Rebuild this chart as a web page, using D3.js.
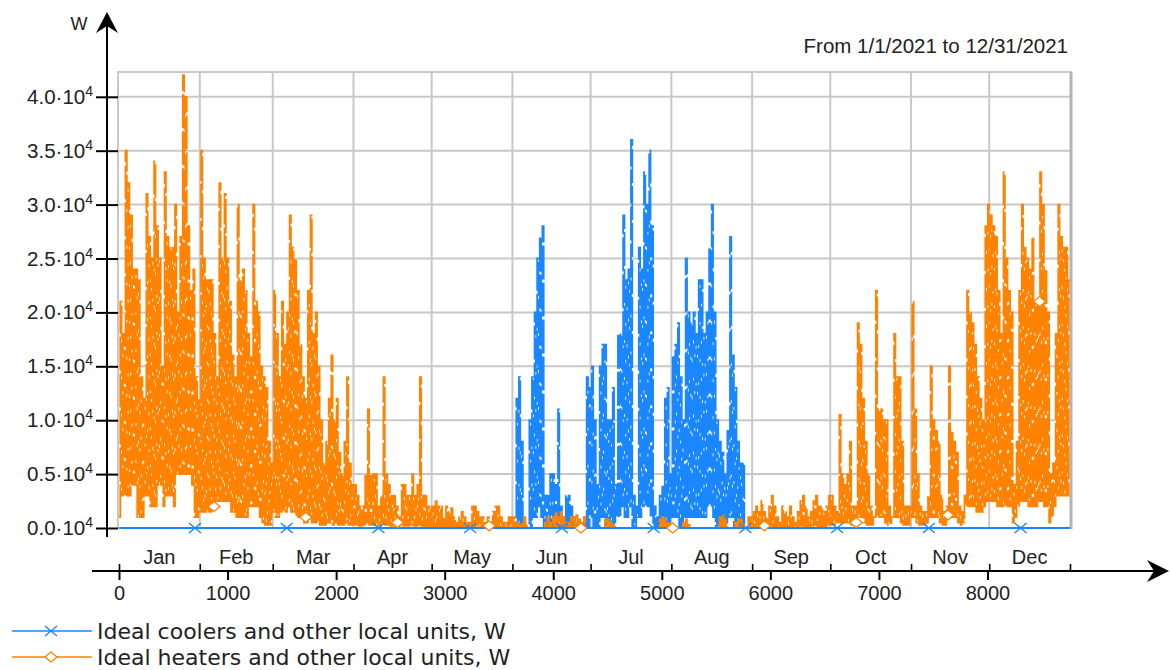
<!DOCTYPE html>
<html>
<head>
<meta charset="utf-8">
<script src="https://cdn.jsdelivr.net/npm/d3@7"></script>
<style>
body { margin: 0; background: #fff; }
text { font-family: "Liberation Sans", Arial, sans-serif; fill: #222; }
</style>
</head>
<body>
<svg id="chart" width="1170" height="670"></svg>
<script>
// month labels and the hour at which each month starts (last = end of year)
var monthNames = ["Jan","Feb","Mar","Apr","May","Jun","Jul","Aug","Sep","Oct","Nov","Dec"];
var monthStartHours = [0,744,1416,2160,2880,3624,4344,5088,5832,6552,7296,8016,8760];
var hourTicks = [0,1000,2000,3000,4000,5000,6000,7000,8000];
var powerTicks = [0,5000,10000,15000,20000,25000,30000,35000,40000];

// heaters, daily peak in kW (one value per day, Jan 1 .. Dec 31)
var heatMaxKw = [
  21,18,35,32,29,24,24,23,14,12,31,27,25,34,28,25,15,33,27,26,26,30,20,27,42,40,28,22,24,14,12, // Jan
  35,25,23,23,23,18,14,32,25,31,25,21,16,14,30,23,24,22,18,16,30,21,20,15,14,13,8,6, // Feb
  22,18,14,21,17,20,29,26,25,22,17,14,12,22,29,18,20,15,10,6,8,12,16,10,12,7,5,8,14,6,4, // Mar
  4,3,2,2,5,11,5,5,5,2,3,14,5,4,3,3,2,1,4,4,3,3,5,3,4,14,3,3,2,2, // Apr
  2,2.5,2,2,1,2,1.5,2,1,0.5,1,1.5,1,0.5,0.5,2,2,1.5,1,1,0.5,1,0.5,1.5,2,2,1,0.5,0.5,1,1, // May
  1,0.5,0.3,0.5,1,0.3,0,0,0,0,0,0,0.5,1,0.5,1,1.5,1,1.5,1,0.5,0.5,1,1,1.2,0.8,0.5,1,0,0, // Jun
  0,0,0,0,0,0.8,0.8,0.5,0.3,0,0,0,0,0,0,0,0,0,0,0,0,0,0,0,0,0,0.8,1,0.8,0.5,0.3, // Jul
  0,0,0,0,0.5,0.8,0.3,0,0,0,0,0,0,0,0,0,0,0,1,1.2,0.8,0,0,0,0.5,0.8,0.8,0.3,0,1,1, // Aug
  1.5,2,1.5,2.5,1.5,1,2,3,2,1,0.5,2,1.5,1,2,1,0.5,1.5,2.5,3,2,1,1.5,2.5,3,2,2,1.5,2,3, // Sep
  3,2,1.5,10.5,5,4,5,8,2,2,19,17,12,8,5,2,1,22,11,11,10,10,2,1,18,14,14,8,2,2,2, // Oct
  21,11,5,2,1.5,1.5,3,15,10,9,8,3,1.5,2,15,9,8,7,2,1.5,3,22,20,19,17,14,12,10,28,30, // Nov
  29,28,27,22,18,33,25,22,20,4,8,22,30,26,25,24,27,21,21,33,30,24,20,5,6,18,30,27,26,26,23 // Dec
];

// heaters, daily low in kW
var heatMinKw = [
  1,3,3,3,3,4,4,1,1,1,3,3,2,2,2,4,4,2,3,3,3,2,5,5,5,5,5,5,4,1,1,
  1.5,1.5,1.5,1.5,1.5,2,2.5,2.5,2.5,2.5,2.5,2.5,1.5,1.5,1,1,1,1,1,2,2,2,2,1,0.5,0.3,0.3,0.3,
  1.5,1,1,1.5,1.5,1.5,2,1.5,1.5,1,1,1,0.5,0.5,1,0.5,0.5,0.5,0.3,0.3,0.3,0.5,0.5,0.3,0.5,0.3,0.3,0.3,0.5,0.3,0.3,
  0.3,0.3,0.2,0.2,0.3,0.5,0.3,0.3,0.3,0.2,0.2,0.5,0.3,0.3,0.2,0.2,0.2,0.1,0.2,0.2,0.2,0.2,0.3,0.2,0.2,0.3,0.2,0.1,0.1,0.1,
  0.1,0.1,0.1,0.1,0,0.1,0,0.1,0,0,0,0,0,0,0,0.1,0.1,0,0,0,0,0,0,0,0.1,0.1,0,0,0,0,0,
  0,0,0,0,0,0,0,0,0,0,0,0,0,0,0,0,0,0,0,0,0,0,0,0,0,0,0,0,0,0,
  0,0,0,0,0,0,0,0,0,0,0,0,0,0,0,0,0,0,0,0,0,0,0,0,0,0,0,0,0,0,0,
  0,0,0,0,0,0,0,0,0,0,0,0,0,0,0,0,0,0,0,0,0,0,0,0,0,0,0,0,0,0,0,
  0,0.1,0,0.2,0,0,0.1,0.2,0.1,0,0,0.1,0,0,0.1,0,0,0,0.2,0.2,0.1,0,0,0.2,0.3,0.1,0.1,0,0.1,0.3,
  0.3,0.3,0.3,0.5,0.5,0.5,0.5,0.5,0.3,0.3,1,1,1,0.5,0.3,0.3,0.3,1,1,1,1,0.5,0.3,0.3,1,1,1,0.5,0.3,0.3,0.3,
  1,1,0.5,0.3,0.3,0.3,0.5,1,1,1,1,0.5,0.3,0.3,1,1,1,1,0.5,0.3,0.5,2,2,2,2,1.5,1.5,1.5,2,2.5,
  2.5,2.5,2.5,2,2,2,2,2,2,0.5,1,2,2.5,2.5,2.5,2,2,2,2,2.5,2.5,2,2,0.5,1,2,3,3,3,3,3
];

// coolers are only running in summer: daily values from day 150 (May 31) on
var coolFirstDay = 150;
var coolMaxKw = [
  0,0,12,14,8,0,0,10,14,20,
  25,27,28,3,3,5,5,4,11,2,
  1,3,3,2,1,0,0,0,1,14,
  13,15,10,4,15,17,17,10,10,13,
  4,18,18,29,23,24,36,3,2,26,
  24,33,30,35,28,2,1,3,4,12,
  13,5,16,17,19,14,10,25,20,19,
  20,18,23,23,18,20,26,30,20,10,
  8,7,5,9,27,16,13,8,6,6,0
];
var coolMinKw = [
  0,0,0,0,0,0,0,0,0,1,
  1,2,1,0,0,0,0,0,0,0,
  0,0,0,0,0,0,0,0,0,0,
  0,1,0,0,0,1,1,0,0,0,
  0,1,1,2,1,1,2,0,0,1,
  1,2,2,2,1,0,0,0,0,0,
  0,0,1,1,1,0,0,1,1,1,
  1,1,1,1,1,1,2,2,1,0,
  0,0,0,0,1,1,0,0,0,0,0
];

// marker positions (hour) and the value they sit on
var coolMarkHours = [700,1545,2390,3235,4080,4925,5770,6615,7460,8305];
var heatMarkHours = [875,1720,2565,3410,4255,5100,5945,6790,7635,8480];
var heatMarkKw = [2,1,0.5,0.2,0,0,0.2,0.5,1.2,21];

var blue = "#1a86ff";
var orange = "#ff8200";
var gridColor = "#c8c8c8";

var svg = d3.select("#chart");

var x = d3.scaleLinear().domain([0, 8760]).range([119, 1070]);
var y = d3.scaleLinear().domain([0, 42300]).range([528, 72]);

// turn daily low/peak pairs into a step line: low at midnight, peak at noon
function dailyPoints(maxArr, minArr, firstDay) {
  var pts = [];
  maxArr.forEach(function(mx, i) {
    var d = firstDay + i;
    pts.push([d * 24, minArr[i] * 1000]);
    pts.push([d * 24 + 12, mx * 1000]);
  });
  return pts;
}

var heatPts = dailyPoints(heatMaxKw, heatMinKw, 0);
heatPts.push([8760, heatMaxKw[heatMaxKw.length - 1] * 1000]);
var coolPts = [[0, 0]].concat(dailyPoints(coolMaxKw, coolMinKw, coolFirstDay));
coolPts.push([8760, 0]);

var line = d3.line()
  .x(function(d) { return x(d[0]); })
  .y(function(d) { return y(d[1]); })
  .curve(d3.curveStepAfter);

// plot frame + grid
svg.append("defs").append("clipPath").attr("id", "plotclip")
  .append("rect").attr("x", 118).attr("y", 72).attr("width", 953).attr("height", 458);

var grid = svg.append("g");
grid.selectAll("line.v")
  .data(monthStartHours.slice(1, 12))
  .enter().append("line")
  .attr("x1", function(d) { return x(d); })
  .attr("x2", function(d) { return x(d); })
  .attr("y1", 72).attr("y2", 528)
  .attr("stroke", gridColor).attr("stroke-width", 2);
grid.selectAll("line.h")
  .data(powerTicks.slice(1))
  .enter().append("line")
  .attr("x1", 118).attr("x2", 1071)
  .attr("y1", function(d) { return y(d); })
  .attr("y2", function(d) { return y(d); })
  .attr("stroke", gridColor).attr("stroke-width", 2);
grid.append("rect")
  .attr("x", 118).attr("y", 72).attr("width", 953).attr("height", 456)
  .attr("fill", "none").attr("stroke", gridColor).attr("stroke-width", 2);
grid.append("line")
  .attr("x1", 1071).attr("x2", 1071).attr("y1", 72).attr("y2", 529)
  .attr("stroke", "#b4b4b4").attr("stroke-width", 3);

// series
var plot = svg.append("g").attr("clip-path", "url(#plotclip)");
plot.append("path")
  .attr("d", line(coolPts))
  .attr("fill", "none")
  .attr("stroke", blue)
  .attr("stroke-width", 1.8)
  .attr("stroke-dasharray", "34 3");
plot.append("path")
  .attr("d", line(heatPts))
  .attr("fill", "none")
  .attr("stroke", orange)
  .attr("stroke-width", 1.8)
  .attr("stroke-dasharray", "34 3");
// blue zero line on top of the cooling path
plot.append("line")
  .attr("x1", x(0)).attr("x2", x(8760))
  .attr("y1", y(0)).attr("y2", y(0))
  .attr("stroke", blue).attr("stroke-width", 2);

function crossMark(sel, color) {
  sel.append("line").attr("x1", -6).attr("y1", -5).attr("x2", 6).attr("y2", 5)
    .attr("stroke", color).attr("stroke-width", 1.4);
  sel.append("line").attr("x1", -6).attr("y1", 5).attr("x2", 6).attr("y2", -5)
    .attr("stroke", color).attr("stroke-width", 1.4);
}
function diamondMark(sel, color) {
  sel.append("path").attr("d", "M0,-5L6,0L0,5L-6,0Z")
    .attr("fill", "#fff").attr("stroke", color).attr("stroke-width", 1.3);
}

svg.selectAll("g.cm")
  .data(coolMarkHours)
  .enter().append("g")
  .attr("transform", function(d) { return "translate(" + x(d) + "," + y(0) + ")"; })
  .call(crossMark, blue);
svg.selectAll("g.hm")
  .data(heatMarkHours)
  .enter().append("g")
  .attr("transform", function(d, i) { return "translate(" + x(d) + "," + y(heatMarkKw[i] * 1000) + ")"; })
  .call(diamondMark, orange);

// y axis (ticks from the library, our own line with the arrow)
var yAxis = svg.append("g")
  .attr("transform", "translate(118,0)")
  .call(d3.axisLeft(y).tickValues(powerTicks).tickSize(22).tickPadding(3).tickFormat(""));
yAxis.select(".domain").remove();
yAxis.selectAll(".tick line").attr("stroke", "#000").attr("stroke-width", 2);
yAxis.selectAll(".tick text").each(function(d) {
  var t = d3.select(this)
    .attr("font-size", 20.5).attr("fill", "#222").attr("dy", "0.32em")
    .style("font-family", "'Liberation Sans', Arial, sans-serif");
  t.append("tspan").text((d / 10000).toFixed(1) + "\u00b710");
  t.append("tspan").attr("font-size", 14).attr("dy", -8).text("4");
});

svg.append("line")
  .attr("x1", 107).attr("x2", 107).attr("y1", 20).attr("y2", 537)
  .attr("stroke", "#000").attr("stroke-width", 2);
svg.append("path")
  .attr("d", "M107,12L118,33L107,26L96,33Z")
  .attr("fill", "#000");
svg.append("text")
  .attr("x", 79).attr("y", 30)
  .attr("text-anchor", "middle")
  .attr("font-size", 18)
  .text("W");

// x axis: month separators above, hour ticks below
var axisY = 571;
svg.append("line")
  .attr("x1", 92).attr("x2", 1160).attr("y1", axisY).attr("y2", axisY)
  .attr("stroke", "#000").attr("stroke-width", 2);
svg.append("path")
  .attr("d", "M1169,571L1147,560L1154,571L1147,582Z")
  .attr("fill", "#000");

var monthAxis = svg.append("g")
  .attr("transform", "translate(0," + axisY + ")")
  .call(d3.axisTop(x).tickValues(monthStartHours).tickSize(7).tickFormat(""));
monthAxis.select(".domain").remove();
monthAxis.selectAll(".tick line").attr("stroke", "#000").attr("stroke-width", 1.6);

svg.selectAll("text.month")
  .data(monthNames)
  .enter().append("text")
  .attr("class", "month")
  .attr("x", function(d, i) { return x((monthStartHours[i] + monthStartHours[i + 1]) / 2); })
  .attr("y", 564)
  .attr("text-anchor", "middle")
  .attr("font-size", 20)
  .text(function(d) { return d; });

var hourAxis = svg.append("g")
  .attr("transform", "translate(0," + axisY + ")")
  .call(d3.axisBottom(x).tickValues(hourTicks).tickSize(9).tickPadding(6).tickFormat(d3.format("d")));
hourAxis.select(".domain").remove();
hourAxis.selectAll(".tick line").attr("stroke", "#000").attr("stroke-width", 2);
hourAxis.selectAll(".tick text")
  .attr("font-size", 20).attr("fill", "#222")
  .style("font-family", "'Liberation Sans', Arial, sans-serif");

// date range note
svg.append("text")
  .attr("x", 1068).attr("y", 53)
  .attr("text-anchor", "end")
  .attr("font-size", 20.5)
  .text("From 1/1/2021 to 12/31/2021");

// legend
var legendRows = [
  { label: "Ideal coolers and other local units, W", color: blue, mark: crossMark, y: 631 },
  { label: "Ideal heaters and other local units, W", color: orange, mark: diamondMark, y: 657 }
];
legendRows.forEach(function(r) {
  var g = svg.append("g").attr("transform", "translate(0," + r.y + ")");
  g.append("line").attr("x1", 12).attr("x2", 92).attr("y1", 0).attr("y2", 0)
    .attr("stroke", r.color).attr("stroke-width", 1.6);
  g.append("g").attr("transform", "translate(51,0)").call(r.mark, r.color);
  g.append("text").attr("x", 97).attr("y", 8)
    .style("font-family", "'DejaVu Sans', sans-serif")
    .attr("font-size", 22).text(r.label);
});
</script>
</body>
</html>
